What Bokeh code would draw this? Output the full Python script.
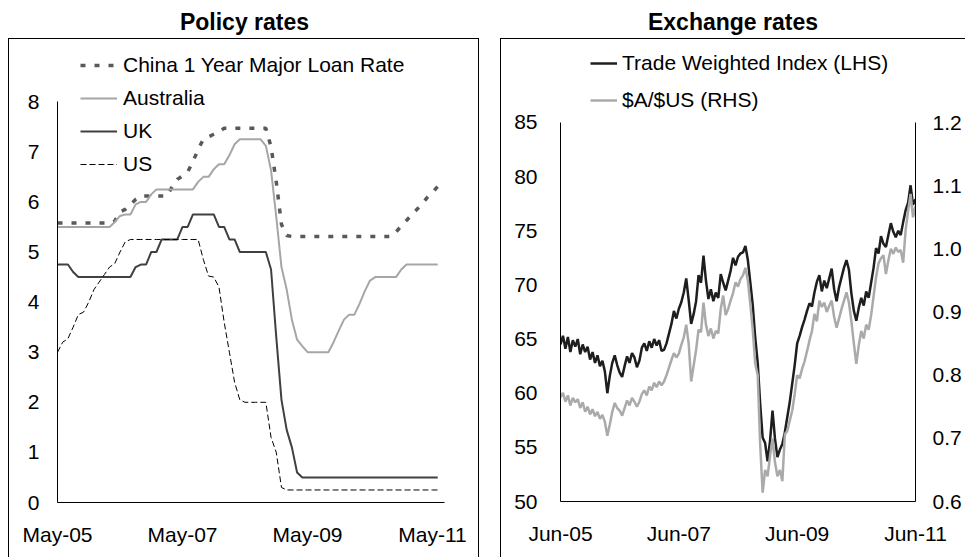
from bokeh.plotting import figure
from bokeh.models import (Range1d, LinearAxis, FixedTicker, Legend, LegendItem, Div,
                          NumeralTickFormatter)
from bokeh.layouts import row, column
from bokeh.embed import file_html
from bokeh.resources import INLINE

FONT = "Liberation Sans"
FS = "21px"

# ---------------- Policy rates (monthly, May-05 .. Jun-11) ----------------
policy_ticks = [0, 24, 48, 72]
policy_tick_labels = ["May-05", "May-07", "May-09", "May-11"]

china = [
    5.58, 5.58, 5.58, 5.58, 5.58, 5.58, 5.58, 5.58,                      # 2005 May-Dec
    5.58, 5.58, 5.58, 5.62, 5.80, 5.85, 5.95, 6.05, 6.12, 6.12, 6.12, 6.12,  # 2006
    6.12, 6.12, 6.30, 6.45, 6.52, 6.60, 6.80, 7.05, 7.25, 7.30, 7.35, 7.40,  # 2007
    7.47, 7.47, 7.47, 7.47, 7.47, 7.47, 7.47, 7.47, 7.47, 7.10, 6.40, 5.55,  # 2008
    5.33, 5.31, 5.31, 5.31, 5.31, 5.31, 5.31, 5.31, 5.31, 5.31, 5.31, 5.31,  # 2009
    5.31, 5.31, 5.31, 5.31, 5.31, 5.31, 5.31, 5.31, 5.31, 5.40, 5.52, 5.63,  # 2010
    5.74, 5.85, 5.96, 6.09, 6.19, 6.31,                                  # 2011 Jan-Jun
]
australia = [
    5.50, 5.50, 5.50, 5.50, 5.50, 5.50, 5.50, 5.50,
    5.50, 5.50, 5.50, 5.60, 5.72, 5.75, 5.75, 5.95, 6.00, 6.00, 6.15, 6.25,
    6.25, 6.25, 6.25, 6.25, 6.25, 6.25, 6.25, 6.40, 6.50, 6.50, 6.65, 6.75,
    6.75, 6.93, 7.15, 7.25, 7.25, 7.25, 7.25, 7.25, 7.12, 6.63, 5.70, 4.70,
    4.25, 3.65, 3.25, 3.12, 3.00, 3.00, 3.00, 3.00, 3.00, 3.20, 3.43, 3.65,
    3.75, 3.75, 3.97, 4.22, 4.43, 4.50, 4.50, 4.50, 4.50, 4.50, 4.65, 4.75,
    4.75, 4.75, 4.75, 4.75, 4.75, 4.75,
]
uk = [
    4.75, 4.75, 4.75, 4.60, 4.50, 4.50, 4.50, 4.50,
    4.50, 4.50, 4.50, 4.50, 4.50, 4.50, 4.50, 4.70, 4.75, 4.75, 5.00, 5.00,
    5.25, 5.25, 5.25, 5.25, 5.50, 5.50, 5.75, 5.75, 5.75, 5.75, 5.75, 5.50,
    5.50, 5.25, 5.25, 5.00, 5.00, 5.00, 5.00, 5.00, 5.00, 4.65, 3.30, 2.05,
    1.45, 1.10, 0.60, 0.50, 0.50, 0.50, 0.50, 0.50, 0.50, 0.50, 0.50, 0.50,
    0.50, 0.50, 0.50, 0.50, 0.50, 0.50, 0.50, 0.50, 0.50, 0.50, 0.50, 0.50,
    0.50, 0.50, 0.50, 0.50, 0.50, 0.50,
]
us = [
    3.00, 3.20, 3.27, 3.50, 3.75, 3.80, 4.00, 4.25,
    4.40, 4.55, 4.70, 4.77, 5.00, 5.20, 5.25, 5.25, 5.25, 5.25, 5.25, 5.25,
    5.25, 5.25, 5.25, 5.25, 5.25, 5.25, 5.25, 5.25, 4.85, 4.52, 4.50, 4.30,
    3.60, 3.00, 2.40, 2.05, 2.00, 2.00, 2.00, 2.00, 2.00, 1.30, 1.00, 0.30,
    0.25, 0.25, 0.25, 0.25, 0.25, 0.25, 0.25, 0.25, 0.25, 0.25, 0.25, 0.25,
    0.25, 0.25, 0.25, 0.25, 0.25, 0.25, 0.25, 0.25, 0.25, 0.25, 0.25, 0.25,
    0.25, 0.25, 0.25, 0.25, 0.25, 0.25,
]
policy_months = list(range(len(china)))

# ---------------- Exchange rates (half-monthly, Jun-05 .. Jun-11) ----------------
fx_ticks = [0, 24, 48, 72]
fx_tick_labels = ["Jun-05", "Jun-07", "Jun-09", "Jun-11"]

twi = [
    64.5, 65.3, 64.1, 65.2, 63.8, 64.9, 64.3, 65.0, 63.6, 64.5,
    63.8, 64.3, 63.1, 63.8, 62.8, 63.5, 62.5, 63.0, 62.0, 60.0,
    61.6, 62.8, 63.5, 62.6, 61.9, 61.5, 62.5, 63.4, 62.8, 63.7,
    63.3, 62.4, 63.0, 64.2, 64.6, 63.9, 64.8, 64.2, 65.0, 64.4,
    64.9, 63.9, 64.0, 64.6, 65.5, 66.4, 67.6, 66.9, 67.8, 68.4,
    69.3, 70.6, 68.6, 66.4, 67.3, 68.5, 70.9, 70.2, 72.7, 70.4,
    68.7, 69.6, 68.5, 69.3, 68.8, 71.0, 70.2, 69.5, 70.4, 71.3,
    72.5, 71.8, 72.6, 72.9, 73.0, 73.6, 72.3, 70.2, 68.1, 65.1,
    62.8, 59.0, 55.9, 55.4, 53.7, 55.6, 58.4, 55.8, 54.1, 54.8,
    55.3, 56.4, 57.8, 59.2, 60.9, 62.6, 64.6, 65.3, 66.1, 66.8,
    67.6, 68.3, 68.0, 69.3, 70.3, 70.9, 69.4, 70.4, 69.7, 70.6,
    71.5, 69.6, 68.5, 69.8, 70.7, 71.6, 72.3, 71.4, 69.2, 67.6,
    66.7, 67.9, 68.8, 68.1, 69.4, 68.8, 70.2, 71.6, 73.4, 72.9,
    74.5, 73.8, 73.5, 74.6, 75.7, 74.9, 74.4, 75.0, 74.6, 75.8,
    76.9, 77.6, 79.2, 77.4, 77.9,
]
aud = [
    0.765, 0.772, 0.758, 0.768, 0.752, 0.764, 0.757, 0.762, 0.748, 0.757,
    0.742, 0.750, 0.738, 0.746, 0.735, 0.742, 0.731, 0.737, 0.726, 0.704,
    0.722, 0.742, 0.756, 0.748, 0.744, 0.736, 0.748, 0.760, 0.752, 0.764,
    0.758, 0.750, 0.758, 0.770, 0.776, 0.768, 0.782, 0.776, 0.788, 0.781,
    0.790, 0.784, 0.790, 0.800, 0.812, 0.824, 0.835, 0.828, 0.834, 0.848,
    0.860, 0.880, 0.850, 0.790, 0.815, 0.840, 0.872, 0.868, 0.915, 0.880,
    0.862, 0.874, 0.858, 0.870, 0.866, 0.905, 0.926, 0.895, 0.905, 0.918,
    0.930, 0.947, 0.940, 0.952, 0.958, 0.970, 0.950, 0.912, 0.871, 0.818,
    0.800, 0.690, 0.614, 0.650, 0.640, 0.672, 0.700, 0.662, 0.640, 0.650,
    0.632, 0.706, 0.712, 0.728, 0.744, 0.770, 0.800, 0.795, 0.810, 0.822,
    0.838, 0.855, 0.870, 0.897, 0.885, 0.918, 0.908, 0.915, 0.900, 0.910,
    0.918, 0.892, 0.875, 0.890, 0.905, 0.918, 0.931, 0.915, 0.885, 0.850,
    0.818, 0.848, 0.870, 0.858, 0.880, 0.872, 0.895, 0.925, 0.955, 0.977,
    0.985, 0.990, 0.960, 0.982, 1.000, 0.992, 1.002, 0.995, 0.998, 0.978,
    1.030, 1.060, 1.087, 1.050, 1.068,
]
fx_months = [i * 0.5 for i in range(len(twi))]


def style_axis(ax, standoff):
    ax.axis_line_color = "black"
    ax.axis_line_width = 1
    ax.major_tick_line_color = None
    ax.minor_tick_line_color = None
    ax.major_tick_in = 0
    ax.major_tick_out = 0
    ax.minor_tick_in = 0
    ax.minor_tick_out = 0
    ax.major_label_text_font = FONT
    ax.major_label_text_font_size = FS
    ax.major_label_text_color = "black"
    ax.major_label_standoff = standoff


def title_div(text, width):
    return Div(text=text, width=width, height=30, margin=0,
               styles={"font-family": FONT, "font-size": "23px", "font-weight": "bold",
                       "text-align": "center", "line-height": "28px", "color": "black"})


# ---------------- Left panel ----------------
# frame spans 0..9.122 so the legend can sit above the 8 line; the axis stops at 8
p1 = figure(width=471, height=519, x_range=Range1d(0, 74.3), y_range=Range1d(0, 9.122),
            output_backend="svg", toolbar_location=None,
            min_border_left=48, min_border_right=36, min_border_top=6, min_border_bottom=56,
            styles={"border-top": "1px solid black", "border-left": "1px solid black",
                    "border-right": "1px solid black"})
p1.outline_line_color = None
p1.grid.visible = False
p1.background_fill_color = "white"
p1.border_fill_color = "white"

r_china = p1.line(policy_months, china, line_color="#595959", line_width=3.5, line_dash="5 9")
r_aus = p1.line(policy_months, australia, line_color="#a6a6a6", line_width=2)
r_uk = p1.line(policy_months, uk, line_color="#404040", line_width=2)
r_us = p1.line(policy_months, us, line_color="black", line_width=1, line_dash="6 3")

p1.xaxis.ticker = FixedTicker(ticks=policy_ticks)
p1.xaxis.major_label_overrides = {t: l for t, l in zip(policy_ticks, policy_tick_labels)}
p1.yaxis.ticker = FixedTicker(ticks=[0, 1, 2, 3, 4, 5, 6, 7, 8])
p1.yaxis.bounds = (0, 8)
style_axis(p1.xaxis[0], 20)
style_axis(p1.yaxis[0], 18)

leg1 = Legend(items=[LegendItem(label="China 1 Year Major Loan Rate", renderers=[r_china]),
                     LegendItem(label="Australia", renderers=[r_aus]),
                     LegendItem(label="UK", renderers=[r_uk]),
                     LegendItem(label="US", renderers=[r_us])],
              location=(23, 326), orientation="vertical",
              border_line_color=None, background_fill_alpha=0,
              label_text_font=FONT, label_text_font_size=FS, label_text_color="black",
              glyph_width=37, glyph_height=24, label_height=24, label_standoff=6,
              spacing=9, padding=0, margin=0)
p1.add_layout(leg1)

# ---------------- Right panel ----------------
p2 = figure(width=465, height=519, x_range=Range1d(0, 72), y_range=Range1d(50, 92.109),
            output_backend="svg", toolbar_location=None,
            min_border_left=59, min_border_right=51, min_border_top=6, min_border_bottom=57,
            styles={"border-top": "1px solid black", "border-left": "1px solid black"})
p2.outline_line_color = None
p2.grid.visible = False
p2.background_fill_color = "white"
p2.border_fill_color = "white"
p2.extra_y_ranges = {"aud": Range1d(0.6, 1.3219)}
ax_r = LinearAxis(y_range_name="aud")
p2.add_layout(ax_r, "right")

r_twi = p2.line(fx_months, twi, line_color="#1e1e1e", line_width=2.5)
r_aud = p2.line(fx_months, aud, line_color="#aaaaaa", line_width=2.5, y_range_name="aud")

p2.xaxis.ticker = FixedTicker(ticks=fx_ticks)
p2.xaxis.major_label_overrides = {t: l for t, l in zip(fx_ticks, fx_tick_labels)}
p2.yaxis[0].ticker = FixedTicker(ticks=[50, 55, 60, 65, 70, 75, 80, 85])
p2.yaxis[0].bounds = (50, 85)
ax_r.ticker = FixedTicker(ticks=[0.6, 0.7, 0.8, 0.9, 1.0, 1.1, 1.2])
ax_r.formatter = NumeralTickFormatter(format="0.0")
ax_r.bounds = (0.6, 1.2)
style_axis(p2.xaxis[0], 20)
style_axis(p2.yaxis[0], 23)
style_axis(ax_r, 17)

leg2 = Legend(items=[LegendItem(label="Trade Weighted Index (LHS)", renderers=[r_twi]),
                     LegendItem(label="$A/$US (RHS)", renderers=[r_aud])],
              location=(30, 389), orientation="vertical",
              border_line_color=None, background_fill_alpha=0,
              label_text_font=FONT, label_text_font_size=FS, label_text_color="black",
              glyph_width=27, glyph_height=24, label_height=24, label_standoff=5,
              spacing=13, padding=0, margin=0)
p2.add_layout(leg2)

layout = row(column(title_div("Policy rates", 473), p1, spacing=0),
             column(title_div("Exchange rates", 466), p2, spacing=0),
             spacing=19, margin=(8, 0, 0, 8))

open("out.html", "w").write(file_html(layout, INLINE))
